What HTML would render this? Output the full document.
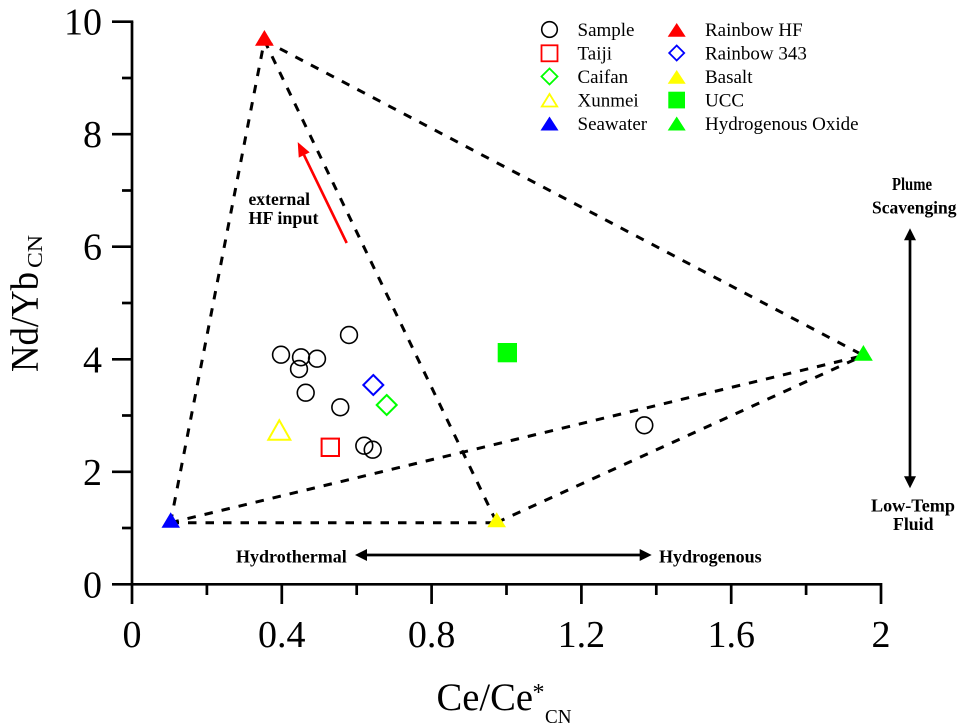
<!DOCTYPE html>
<html>
<head>
<meta charset="utf-8">
<style>
html,body{margin:0;padding:0;background:#fff;}
svg{display:block;}
text{font-family:"Liberation Serif","Times New Roman",serif;fill:#000;}
.b{font-weight:bold;}
</style>
</head>
<body>
<svg width="960" height="725" viewBox="0 0 960 725" xmlns="http://www.w3.org/2000/svg">
  <!-- axes -->
  <g stroke="#000" stroke-width="2.7" fill="none" stroke-linecap="butt">
    <line x1="132" y1="21.7" x2="132" y2="604"/>
    <line x1="112" y1="584.3" x2="882" y2="584.3"/>
    <!-- y major ticks -->
    <line x1="112" y1="471.8" x2="132" y2="471.8"/>
    <line x1="112" y1="359.3" x2="132" y2="359.3"/>
    <line x1="112" y1="246.7" x2="132" y2="246.7"/>
    <line x1="112" y1="134.2" x2="132" y2="134.2"/>
    <line x1="112" y1="21.7" x2="133.3" y2="21.7"/>
    <!-- y minor ticks -->
    <line x1="122" y1="528" x2="132" y2="528"/>
    <line x1="122" y1="415.5" x2="132" y2="415.5"/>
    <line x1="122" y1="303" x2="132" y2="303"/>
    <line x1="122" y1="190.5" x2="132" y2="190.5"/>
    <line x1="122" y1="78" x2="132" y2="78"/>
    <!-- x major ticks -->
    <line x1="281.8" y1="584.3" x2="281.8" y2="604"/>
    <line x1="431.6" y1="584.3" x2="431.6" y2="604"/>
    <line x1="581.4" y1="584.3" x2="581.4" y2="604"/>
    <line x1="731.2" y1="584.3" x2="731.2" y2="604"/>
    <line x1="881" y1="583" x2="881" y2="604"/>
    <!-- x minor ticks -->
    <line x1="206.9" y1="584.3" x2="206.9" y2="595"/>
    <line x1="356.7" y1="584.3" x2="356.7" y2="595"/>
    <line x1="506.5" y1="584.3" x2="506.5" y2="595"/>
    <line x1="656.3" y1="584.3" x2="656.3" y2="595"/>
    <line x1="806.1" y1="584.3" x2="806.1" y2="595"/>
  </g>

  <!-- tick labels -->
  <g font-size="38" text-anchor="end">
    <text x="102" y="597.3">0</text>
    <text x="102" y="484.8">2</text>
    <text x="102" y="372.3">4</text>
    <text x="102" y="259.7">6</text>
    <text x="102" y="147.2">8</text>
    <text x="102" y="34.7">10</text>
  </g>
  <g font-size="38" text-anchor="middle">
    <text x="132" y="647">0</text>
    <text x="281.8" y="647">0.4</text>
    <text x="431.6" y="647">0.8</text>
    <text x="581.4" y="647">1.2</text>
    <text x="731.2" y="647">1.6</text>
    <text x="881" y="647">2</text>
  </g>

  <!-- axis titles -->
  <text x="436.5" y="710" font-size="39" textLength="96.5" lengthAdjust="spacingAndGlyphs">Ce/Ce</text>
  <text x="532.5" y="700" font-size="24">*</text>
  <text x="545" y="723" font-size="20" textLength="26.5" lengthAdjust="spacingAndGlyphs">CN</text>

  <text transform="translate(37.5,372) rotate(-90)" font-size="39" textLength="100" lengthAdjust="spacingAndGlyphs">Nd/Yb</text>
  <text transform="translate(42,268) rotate(-90)" font-size="21" textLength="33" lengthAdjust="spacingAndGlyphs">CN</text>

  <!-- dashed lines -->
  <g stroke="#000" stroke-width="3" stroke-dasharray="8.5 9" fill="none">
    <line x1="170.5" y1="522.7" x2="264.4" y2="40.5"/>
    <line x1="264.4" y1="40.5" x2="863.5" y2="355.5"/>
    <line x1="264.4" y1="40.5" x2="496.7" y2="522.5"/>
    <line x1="170.5" y1="522.7" x2="496.7" y2="522.7"/>
    <line x1="170.5" y1="522.7" x2="863.5" y2="355.5"/>
    <line x1="496.7" y1="522.5" x2="863.5" y2="355.5"/>
  </g>

  <!-- sample circles -->
  <g stroke="#000" stroke-width="1.6" fill="none">
    <circle cx="349" cy="335" r="8.4"/>
    <circle cx="281" cy="354.7" r="8.4"/>
    <circle cx="301" cy="357.3" r="8.4"/>
    <circle cx="317" cy="358.7" r="8.4"/>
    <circle cx="299" cy="369" r="8.4"/>
    <circle cx="305.7" cy="392.7" r="8.4"/>
    <circle cx="340.3" cy="407.3" r="8.4"/>
    <circle cx="364.3" cy="445.7" r="8.4"/>
    <circle cx="372.7" cy="449.7" r="8.4"/>
    <circle cx="644.3" cy="425.3" r="8.4"/>
  </g>

  <!-- other markers -->
  <rect x="321.6" y="438.6" width="17.4" height="17.4" fill="none" stroke="#ff0000" stroke-width="2"/>
  <polygon points="373.3,375 383.3,385 373.3,395 363.3,385" fill="none" stroke="#0000ff" stroke-width="2"/>
  <polygon points="386.7,395 396.7,405 386.7,415 376.7,405" fill="none" stroke="#00ff00" stroke-width="2"/>
  <polygon points="279.3,420.3 268.3,439.7 290.3,439.7" fill="none" stroke="#ffff00" stroke-width="2"/>

  <polygon points="264.4,30 255,45.7 273.8,45.7" fill="#ff0000"/>
  <polygon points="170.7,512.3 161.5,527.7 180,527.7" fill="#0000ff"/>
  <polygon points="496.7,512.3 487.3,527.3 506,527.3" fill="#ffff00"/>
  <polygon points="863.4,345 854,360.7 872.8,360.7" fill="#00ff00"/>
  <rect x="497.7" y="343" width="19.3" height="19.3" fill="#00ff00"/>

  <!-- red arrow -->
  <line x1="346.7" y1="243" x2="304" y2="155" stroke="#ff0000" stroke-width="2.6"/>
  <polygon points="298.3,143.3 308.8,152.2 299.2,156.8" fill="#ff0000" stroke="#ff0000" stroke-width="1"/>
  <text class="b" x="248.5" y="205" font-size="17.5" textLength="61.5" lengthAdjust="spacingAndGlyphs">external</text>
  <text class="b" x="248.5" y="224" font-size="17.5" textLength="70" lengthAdjust="spacingAndGlyphs">HF input</text>

  <!-- horizontal double arrow -->
  <line x1="364" y1="555" x2="642" y2="555" stroke="#000" stroke-width="2.7"/>
  <polygon points="355,555 367,549 367,561" fill="#000"/>
  <polygon points="651.7,555 639.7,549 639.7,561" fill="#000"/>
  <text class="b" x="236" y="562.7" font-size="18" textLength="110.7" lengthAdjust="spacingAndGlyphs">Hydrothermal</text>
  <text class="b" x="659" y="562.7" font-size="18" textLength="102.7" lengthAdjust="spacingAndGlyphs">Hydrogenous</text>

  <!-- vertical double arrow -->
  <line x1="910" y1="238" x2="910" y2="479" stroke="#000" stroke-width="2.7"/>
  <polygon points="910,228.3 904,240.3 916,240.3" fill="#000"/>
  <polygon points="910,488.3 904,476.3 916,476.3" fill="#000"/>
  <text class="b" x="892" y="190" font-size="18" textLength="40" lengthAdjust="spacingAndGlyphs">Plume</text>
  <text class="b" x="872" y="213.3" font-size="18" textLength="84.5" lengthAdjust="spacingAndGlyphs">Scavenging</text>
  <text class="b" x="871" y="511.7" font-size="18" textLength="84" lengthAdjust="spacingAndGlyphs">Low-Temp</text>
  <text class="b" x="893" y="530" font-size="18" textLength="40.5" lengthAdjust="spacingAndGlyphs">Fluid</text>

  <!-- legend -->
  <g font-size="19">
    <circle cx="549.5" cy="29.5" r="7.8" fill="none" stroke="#000" stroke-width="1.6"/>
    <text x="577.5" y="36">Sample</text>
    <rect x="541.5" y="45.3" width="16" height="16" fill="none" stroke="#ff0000" stroke-width="1.8"/>
    <text x="577.5" y="59.5">Taiji</text>
    <polygon points="549.5,68.5 557.5,76.5 549.5,84.5 541.5,76.5" fill="none" stroke="#00ff00" stroke-width="1.8"/>
    <text x="577.5" y="83">Caifan</text>
    <polygon points="549.5,94 541.8,106.5 557.2,106.5" fill="none" stroke="#ffff00" stroke-width="1.8"/>
    <text x="577.5" y="106.5">Xunmei</text>
    <polygon points="549.5,116.5 540.5,130.5 558.5,130.5" fill="#0000ff"/>
    <text x="577.5" y="130">Seawater</text>

    <polygon points="676.7,23 667.7,36.7 685.7,36.7" fill="#ff0000"/>
    <text x="705" y="36">Rainbow HF</text>
    <polygon points="676.7,45.5 684.2,53 676.7,60.5 669.2,53" fill="none" stroke="#0000ff" stroke-width="1.8"/>
    <text x="705" y="59.5">Rainbow 343</text>
    <polygon points="676.7,70 667.7,83.7 685.7,83.7" fill="#ffff00"/>
    <text x="705" y="83">Basalt</text>
    <rect x="668.3" y="91.7" width="16.7" height="16.7" fill="#00ff00"/>
    <text x="705" y="106.5">UCC</text>
    <polygon points="676.7,116.5 667.7,130.5 685.7,130.5" fill="#00ff00"/>
    <text x="705" y="130">Hydrogenous Oxide</text>
  </g>
</svg>
</body>
</html>
